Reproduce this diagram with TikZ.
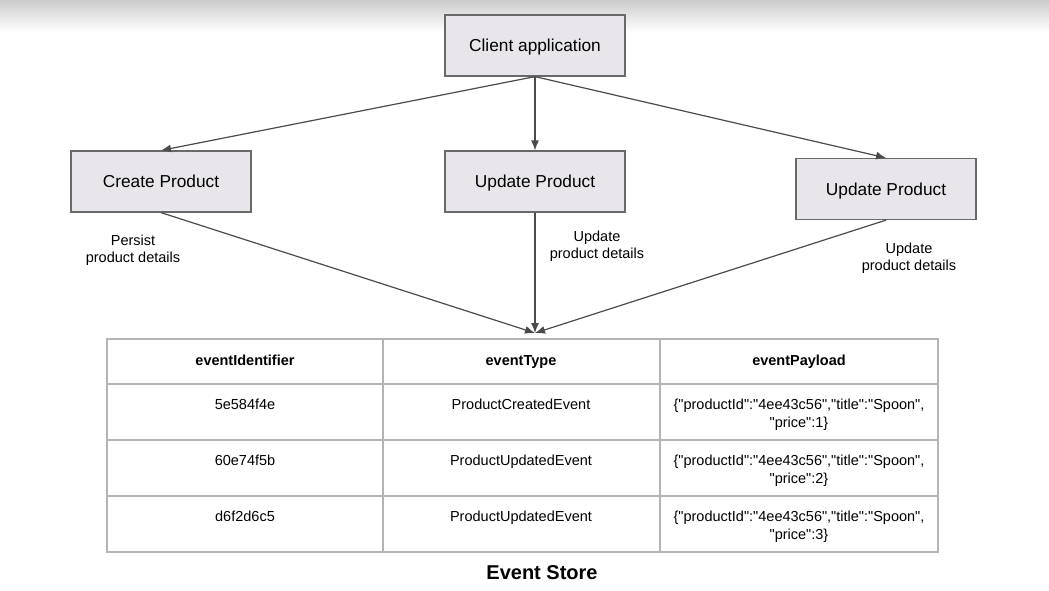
\documentclass[tikz,border=0pt]{standalone}
\usepackage{fontspec}
\setmainfont{Liberation Sans}
\usetikzlibrary{arrows.meta}
\definecolor{boxfill}{RGB}{232,230,234}
\definecolor{boxline}{RGB}{105,105,105}
\definecolor{arrline}{RGB}{75,75,75}
\definecolor{gridline}{RGB}{180,180,180}
\newcommand\qt{\textquotedbl}

\begin{document}
\begin{tikzpicture}[x=1pt,y=-1pt,
  box/.style={draw=boxline,fill=boxfill,line width=1.2pt,minimum width=180pt,minimum height=61pt,inner sep=0pt,text height=14pt,text depth=1.6pt,font=\fontsize{17.3}{20}\selectfont},
  arr/.style={draw=arrline,line width=1.2pt,-{Latex[length=10pt,width=8pt]}},
  lbl/.style={align=center,font=\fontsize{14.5}{17}\selectfont},
  cell/.style={anchor=north,inner sep=0pt,align=center,font=\fontsize{14.5}{18}\selectfont},
  head/.style={cell,font=\bfseries\fontsize{14.5}{18}\selectfont},
  grid/.style={draw=gridline,line width=1.2pt}]
  \useasboundingbox (0,0) rectangle (1049,590);
  \fill[white] (0,0) rectangle (1049,590);
  \shade[top color=gray!40,bottom color=white] (0,0) rectangle (1049,32);

  \node[box] (client) at (535,45.5) {Client application};
  \node[box] (create) at (161,181.5) {Create Product};
  \node[box] (upda) at (535,181.5) {Update Product};
  \node[box] (updb) at (886,189) {Update Product};
  \coordinate (store) at (535,333);

  \draw[arr] (client.south) -- (create.north);
  \draw[arr] (client.south) -- (upda.north);
  \draw[arr] (client.south) -- (updb.north);
  \draw[arr] (create.south) -- (store);
  \draw[arr] (upda.south) -- (store);
  \draw[arr] (updb.south) -- (store);

  \node[lbl] (lcreate) at (133,250) {Persist\\product details};
  \node[lbl] (lupda) at (597,246) {Update\\product details};
  \node[lbl] (lupdb) at (909,258) {Update\\product details};

  \draw[grid] (107,339) rectangle (938,552);
  \foreach \y in {384,440,496}
    \draw[grid] (107,\y) -- (938,\y);
  \foreach \x in {383,660}
    \draw[grid] (\x,339) -- (\x,552);

  \node[head] (hid) at (245,355) {eventIdentifier};
  \node[head] (htype) at (521,355) {eventType};
  \node[head] (hpay) at (799,355) {eventPayload};

  \foreach \id/\ty/\p [count=\i] in {5e584f4e/ProductCreatedEvent/1,60e74f5b/ProductUpdatedEvent/2,d6f2d6c5/ProductUpdatedEvent/3}{
    \pgfmathsetmacro\rtop{384+56*(\i-1)+15}
    \node[cell] (id\i) at (245,\rtop) {\id};
    \node[cell] (ty\i) at (521,\rtop) {\ty};
    \node[cell] (pay\i) at (799,\rtop) {\{\qt productId\qt:\qt 4ee43c56\qt,\qt title\qt:\qt Spoon\qt,\\\qt price\qt:\p\}};
  }

  \node[font=\bfseries\fontsize{20}{24}\selectfont] (title) at (542,573) {Event Store};
\end{tikzpicture}
\end{document}
